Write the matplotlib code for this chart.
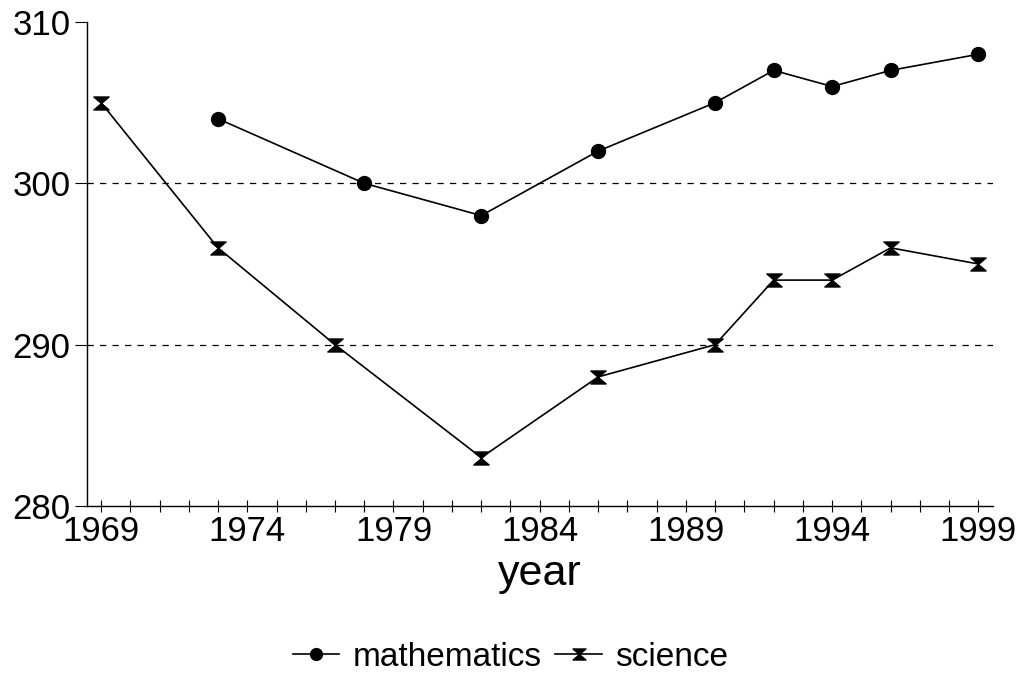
#!/usr/bin/env python3
"""mathematics / science scores by year"""

import matplotlib
matplotlib.use('Agg')
import matplotlib.pyplot as plt
from matplotlib.path import Path
import numpy as np

plt.rcParams['font.family'] = ['Liberation Sans', 'DejaVu Sans']

# data
math_years = [1973, 1978, 1982, 1986, 1990, 1992, 1994, 1996, 1999]
math_scores = [304, 300, 298, 302, 305, 307, 306, 307, 308]
sci_years = [1969, 1973, 1977, 1982, 1986, 1990, 1992, 1994, 1996, 1999]
sci_scores = [305, 296, 290, 283, 288, 290, 294, 294, 296, 295]
x_major = [1969, 1974, 1979, 1984, 1989, 1994, 1999]
y_major = [280, 290, 300, 310]
grid_levels = [290, 300]

# hourglass marker
hourglass = Path([(-1, 0.85), (1, 0.85), (0, 0), (1, -0.85), (-1, -0.85), (0, 0), (-1, 0.85)],
                 [Path.MOVETO, Path.LINETO, Path.LINETO, Path.LINETO, Path.LINETO, Path.LINETO, Path.CLOSEPOLY])

fig = plt.figure(figsize=(10.21, 6.74), dpi=100)
ax = fig.add_axes([0.0852, 0.2493, 0.8874, 0.7181])

for lev in grid_levels:
    ax.axhline(lev, color='black', linestyle=(0, (5, 5)), linewidth=0.9, zorder=1)

ax.plot(math_years, math_scores, color='black', linewidth=1.2, marker='o',
        markersize=10, markerfacecolor='black', label='mathematics', zorder=3)
ax.plot(sci_years, sci_scores, color='black', linewidth=1.2, marker=hourglass,
        markersize=11, markerfacecolor='black', label='science', zorder=3)

ax.set_xlim(1968.52, 1999.5)
ax.set_ylim(280, 310)

ax.set_xticks(x_major)
ax.set_xticks(np.arange(1969, 2000), minor=True)
ax.set_yticks(y_major)
ax.tick_params(axis='x', which='both', direction='inout', length=9, width=0.8,
               labelsize=25, pad=2)
ax.tick_params(axis='y', which='major', direction='out', length=9, width=0.8,
               labelsize=25, pad=3)

for side in ['top', 'right']:
    ax.spines[side].set_visible(False)
ax.spines['left'].set_linewidth(1.0)
ax.spines['bottom'].set_linewidth(1.0)

ax.set_xlabel('year', fontsize=31, labelpad=4)

fig.legend(loc='center', bbox_to_anchor=(0.5, 0.025), ncol=2, frameon=False,
           fontsize=24, handlelength=1.4, handletextpad=0.4, columnspacing=0.4,
           markerscale=0.85)

plt.savefig('out.png', dpi=100)
plt.close()
